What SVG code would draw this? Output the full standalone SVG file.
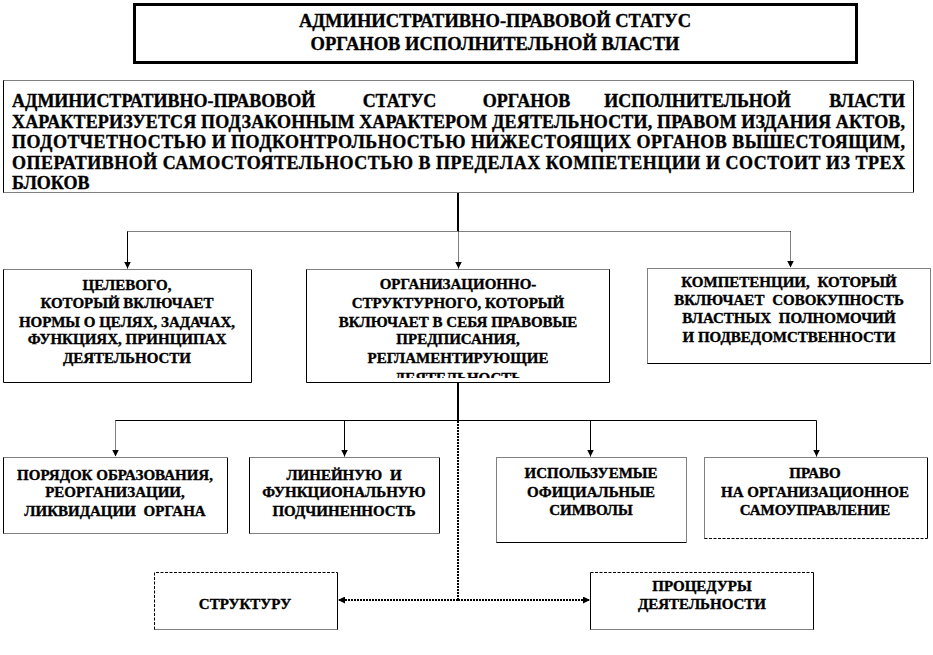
<svg xmlns="http://www.w3.org/2000/svg" width="933" height="655" viewBox="0 0 933 655">
<defs>
<marker id="ah" viewBox="0 0 8 8" refX="8" refY="4" markerWidth="7" markerHeight="7" markerUnits="userSpaceOnUse" orient="auto"><path d="M0,0 L8,4 L0,8 z" fill="#000"/></marker>
<clipPath id="clip2"><rect x="307" y="270" width="301" height="108"/></clipPath>
</defs>
<style>
.s{stroke:#000;stroke-width:1;fill:none}
.d{stroke:#000;stroke-width:1;fill:none;stroke-dasharray:1 1}
.h{stroke:#000;stroke-width:1;fill:none;stroke-dasharray:3 1.5}
.bg{fill:#fff;stroke:none}
.ct{stroke:#000;stroke-width:2;fill:none}
.ctd{stroke:#000;stroke-width:2;fill:none;stroke-dasharray:2 1}
text{stroke:#000;stroke-width:0.35}
</style>
<rect width="933" height="655" fill="#fff"/>

<g id="title">
<rect x="134.5" y="4.5" width="722" height="58" fill="#fff" stroke="#000" stroke-width="3"/>
<text font-family="Liberation Serif, serif" font-weight="bold" font-size="18.5" text-anchor="middle" x="495" y="26.5">АДМИНИСТРАТИВНО-ПРАВОВОЙ СТАТУС</text>
<text font-family="Liberation Serif, serif" font-weight="bold" font-size="18.5" text-anchor="middle" x="495" y="50">ОРГАНОВ ИСПОЛНИТЕЛЬНОЙ ВЛАСТИ</text>
</g>

<g id="main">
<rect class="bg" x="3.5" y="80.5" width="910" height="112"/>
<path class="d" d="M3.5,80.5 H913.5 M3.5,192.5 H913.5"/>
<path class="s" d="M3.5,80.5 V192.5 M913.5,80.5 V192.5"/>
<text font-family="Liberation Serif, serif" font-weight="bold" font-size="18" x="12" y="107">АДМИНИСТРАТИВНО-ПРАВОВОЙ</text>
<text font-family="Liberation Serif, serif" font-weight="bold" font-size="18" x="399.5" y="107" text-anchor="middle">СТАТУС</text>
<text font-family="Liberation Serif, serif" font-weight="bold" font-size="18" x="526.5" y="107" text-anchor="middle">ОРГАНОВ</text>
<text font-family="Liberation Serif, serif" font-weight="bold" font-size="18" x="697.5" y="107" text-anchor="middle">ИСПОЛНИТЕЛЬНОЙ</text>
<text font-family="Liberation Serif, serif" font-weight="bold" font-size="18" x="905" y="107" text-anchor="end">ВЛАСТИ</text>
<text font-family="Liberation Serif, serif" font-weight="bold" font-size="18" x="12" y="127.5" textLength="893" lengthAdjust="spacing">ХАРАКТЕРИЗУЕТСЯ ПОДЗАКОННЫМ ХАРАКТЕРОМ ДЕЯТЕЛЬНОСТИ, ПРАВОМ ИЗДАНИЯ АКТОВ,</text>
<text font-family="Liberation Serif, serif" font-weight="bold" font-size="18" x="12" y="148" textLength="893" lengthAdjust="spacing">ПОДОТЧЕТНОСТЬЮ И ПОДКОНТРОЛЬНОСТЬЮ НИЖЕСТОЯЩИХ ОРГАНОВ ВЫШЕСТОЯЩИМ,</text>
<text font-family="Liberation Serif, serif" font-weight="bold" font-size="18" x="12" y="168.5" textLength="893" lengthAdjust="spacing">ОПЕРАТИВНОЙ САМОСТОЯТЕЛЬНОСТЬЮ В ПРЕДЕЛАХ КОМПЕТЕНЦИИ И СОСТОИТ ИЗ ТРЕХ</text>
<text font-family="Liberation Serif, serif" font-weight="bold" font-size="18" x="12" y="189">БЛОКОВ</text>
</g>

<g id="target">
<rect class="bg" x="3.5" y="269.5" width="248" height="113"/>
<path class="d" d="M3.5,269.5 H251.5"/>
<path class="s" d="M3.5,269.5 V382.5 H251.5 V269.5"/>
<text font-family="Liberation Serif, serif" font-weight="bold" font-size="15" text-anchor="middle" x="127" y="290">ЦЕЛЕВОГО,</text>
<text font-family="Liberation Serif, serif" font-weight="bold" font-size="15" text-anchor="middle" x="127" y="308">КОТОРЫЙ ВКЛЮЧАЕТ</text>
<text font-family="Liberation Serif, serif" font-weight="bold" font-size="15" text-anchor="middle" x="127" y="327">НОРМЫ О ЦЕЛЯХ, ЗАДАЧАХ,</text>
<text font-family="Liberation Serif, serif" font-weight="bold" font-size="15" text-anchor="middle" x="127" y="344">ФУНКЦИЯХ, ПРИНЦИПАХ</text>
<text font-family="Liberation Serif, serif" font-weight="bold" font-size="15" text-anchor="middle" x="127" y="363">ДЕЯТЕЛЬНОСТИ</text>
</g>

<g id="orgstruct">
<rect class="bg" x="306.5" y="269.5" width="303" height="113"/>
<path class="d" d="M306.5,269.5 H609.5"/>
<path class="s" d="M306.5,269.5 V382.5 H609.5 V269.5"/>
<g clip-path="url(#clip2)">
<text font-family="Liberation Serif, serif" font-weight="bold" font-size="15" text-anchor="middle" x="458" y="289">ОРГАНИЗАЦИОННО-</text>
<text font-family="Liberation Serif, serif" font-weight="bold" font-size="15" text-anchor="middle" x="458" y="308">СТРУКТУРНОГО, КОТОРЫЙ</text>
<text font-family="Liberation Serif, serif" font-weight="bold" font-size="15" text-anchor="middle" x="458" y="327">ВКЛЮЧАЕТ В СЕБЯ ПРАВОВЫЕ</text>
<text font-family="Liberation Serif, serif" font-weight="bold" font-size="15" text-anchor="middle" x="458" y="344">ПРЕДПИСАНИЯ,</text>
<text font-family="Liberation Serif, serif" font-weight="bold" font-size="15" text-anchor="middle" x="458" y="363">РЕГЛАМЕНТИРУЮЩИЕ</text>
<text font-family="Liberation Serif, serif" font-weight="bold" font-size="15" text-anchor="middle" x="458" y="383">ДЕЯТЕЛЬНОСТЬ</text>
</g>
</g>

<g id="competence">
<rect class="bg" x="647.5" y="268.5" width="283" height="95"/>
<path class="d" d="M647.5,363.5 V268.5 H930.5 V363.5"/>
<path class="s" d="M647.5,363.5 H930.5"/>
<text font-family="Liberation Serif, serif" font-weight="bold" font-size="15" text-anchor="middle" word-spacing="4" x="789" y="287">КОМПЕТЕНЦИИ, КОТОРЫЙ</text>
<text font-family="Liberation Serif, serif" font-weight="bold" font-size="15" text-anchor="middle" word-spacing="4" x="789" y="305">ВКЛЮЧАЕТ СОВОКУПНОСТЬ</text>
<text font-family="Liberation Serif, serif" font-weight="bold" font-size="15" text-anchor="middle" word-spacing="4" x="789" y="323">ВЛАСТНЫХ ПОЛНОМОЧИЙ</text>
<text font-family="Liberation Serif, serif" font-weight="bold" font-size="15" text-anchor="middle" x="789" y="342">И ПОДВЕДОМСТВЕННОСТИ</text>
</g>

<g id="order">
<rect class="bg" x="3.5" y="457.5" width="224" height="76"/>
<path class="d" d="M3.5,457.5 H227.5 M3.5,533.5 H227.5"/>
<path class="s" d="M3.5,457.5 V533.5 M227.5,457.5 V533.5"/>
<text font-family="Liberation Serif, serif" font-weight="bold" font-size="15" text-anchor="middle" x="115" y="480">ПОРЯДОК ОБРАЗОВАНИЯ,</text>
<text font-family="Liberation Serif, serif" font-weight="bold" font-size="15" text-anchor="middle" x="115" y="497">РЕОРГАНИЗАЦИИ,</text>
<text font-family="Liberation Serif, serif" font-weight="bold" font-size="15" text-anchor="middle" word-spacing="4" x="115" y="516">ЛИКВИДАЦИИ ОРГАНА</text>
</g>

<g id="linear">
<rect class="bg" x="249.5" y="457.5" width="190" height="76"/>
<path class="d" d="M249.5,457.5 H439.5 M249.5,533.5 H439.5"/>
<path class="s" d="M249.5,457.5 V533.5 M439.5,457.5 V533.5"/>
<text font-family="Liberation Serif, serif" font-weight="bold" font-size="15" text-anchor="middle" word-spacing="4" x="344" y="480">ЛИНЕЙНУЮ И</text>
<text font-family="Liberation Serif, serif" font-weight="bold" font-size="15" text-anchor="middle" x="344" y="497">ФУНКЦИОНАЛЬНУЮ</text>
<text font-family="Liberation Serif, serif" font-weight="bold" font-size="15" text-anchor="middle" x="344" y="516">ПОДЧИНЕННОСТЬ</text>
</g>

<g id="symbols">
<rect class="bg" x="496.5" y="457.5" width="190" height="85"/>
<path class="d" d="M496.5,542.5 V457.5 H686.5 V542.5"/>
<path class="s" d="M496.5,542.5 H686.5"/>
<text font-family="Liberation Serif, serif" font-weight="bold" font-size="15" text-anchor="middle" x="591" y="478">ИСПОЛЬЗУЕМЫЕ</text>
<text font-family="Liberation Serif, serif" font-weight="bold" font-size="15" text-anchor="middle" x="591" y="497">ОФИЦИАЛЬНЫЕ</text>
<text font-family="Liberation Serif, serif" font-weight="bold" font-size="15" text-anchor="middle" x="591" y="515">СИМВОЛЫ</text>
</g>

<g id="selfgov">
<rect class="bg" x="704.5" y="457.5" width="223" height="81"/>
<path class="d" d="M704.5,538.5 V457.5 H927.5"/>
<path class="s" d="M927.5,457.5 V538.5"/>
<path class="h" d="M704.5,538.5 H927.5"/>
<text font-family="Liberation Serif, serif" font-weight="bold" font-size="15" text-anchor="middle" x="815" y="478">ПРАВО</text>
<text font-family="Liberation Serif, serif" font-weight="bold" font-size="15" text-anchor="middle" x="815" y="497">НА ОРГАНИЗАЦИОННОЕ</text>
<text font-family="Liberation Serif, serif" font-weight="bold" font-size="15" text-anchor="middle" x="815" y="515">САМОУПРАВЛЕНИЕ</text>
</g>

<g id="structure">
<rect class="bg" x="154.5" y="572.5" width="183" height="57"/>
<path class="h" d="M154.5,629.5 V572.5 H337.5"/>
<path class="s" d="M337.5,572.5 V629.5"/>
<path class="d" d="M154.5,629.5 H337.5"/>
<text font-family="Liberation Serif, serif" font-weight="bold" font-size="15" text-anchor="middle" x="245" y="609">СТРУКТУРУ</text>
</g>

<g id="procedures">
<rect class="bg" x="590.5" y="572.5" width="223" height="57"/>
<path class="h" d="M590.5,572.5 H813.5"/>
<path class="s" d="M590.5,572.5 V629.5 M813.5,572.5 V629.5"/>
<path class="d" d="M590.5,629.5 H813.5"/>
<text font-family="Liberation Serif, serif" font-weight="bold" font-size="15" text-anchor="middle" x="702" y="591">ПРОЦЕДУРЫ</text>
<text font-family="Liberation Serif, serif" font-weight="bold" font-size="15" text-anchor="middle" x="702" y="609">ДЕЯТЕЛЬНОСТИ</text>
</g>

<g id="connectors">
<path class="ct" d="M458,193 V231"/>
<path class="d" d="M127.5,231.5 H790.5"/>
<path class="s" d="M127.5,231.5 V268.5" marker-end="url(#ah)"/>
<path class="d" d="M458.5,231.5 V268.5" marker-end="url(#ah)"/>
<path class="d" d="M790.5,231.5 V267.5" marker-end="url(#ah)"/>
<path class="ct" d="M458,383 V421"/>
<path class="s" d="M115.5,420.5 H816.5"/>
<path class="d" d="M115.5,420.5 V456.5" marker-end="url(#ah)"/>
<path class="s" d="M344.5,420.5 V456.5" marker-end="url(#ah)"/>
<path class="s" d="M590.5,420.5 V456.5" marker-end="url(#ah)"/>
<path class="s" d="M816.5,420.5 V456.5" marker-end="url(#ah)"/>
<path class="ctd" d="M458,421 V600"/>
<path class="ctd" d="M458,600 H338" marker-end="url(#ah)"/>
<path class="ctd" d="M458,600 H590" marker-end="url(#ah)"/>
</g>
</svg>
